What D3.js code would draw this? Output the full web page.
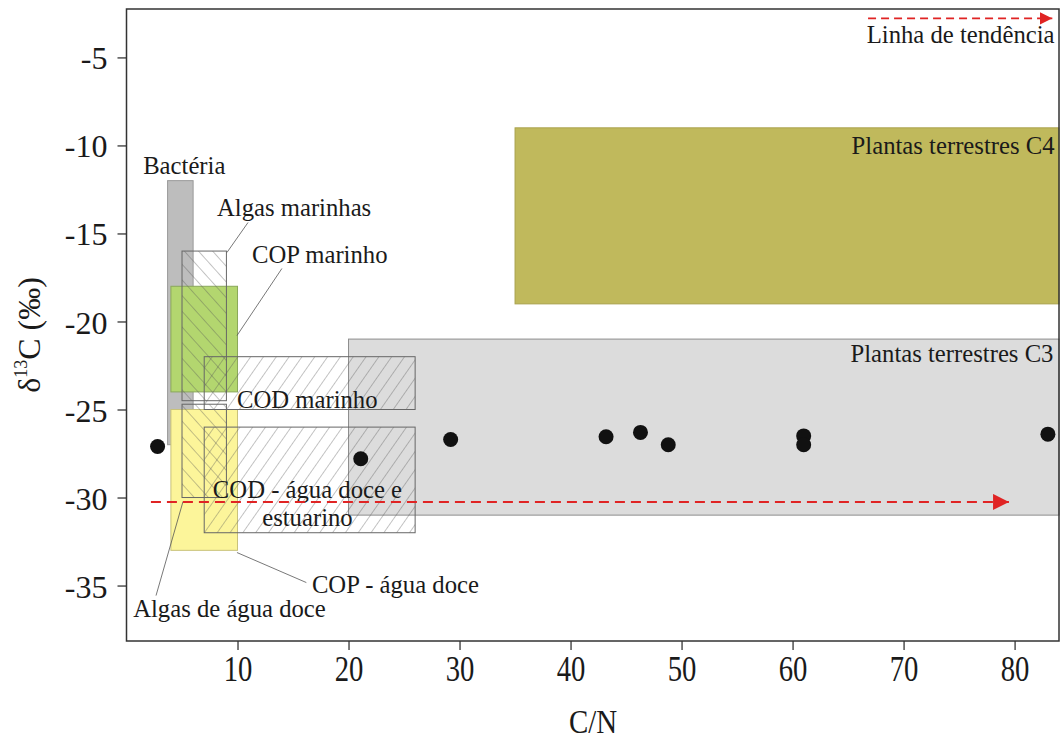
<!DOCTYPE html>
<html>
<head>
<meta charset="utf-8">
<script src="https://cdn.jsdelivr.net/npm/d3@7"></script>
<style>
  html, body { margin: 0; padding: 0; background: #fff; }
  svg { display: block; font-family: 'Liberation Serif', 'Times New Roman', serif; }
</style>
</head>
<body>
<svg id="chart" width="1061" height="743"></svg>
<script>
// axis ticks
const xTicks = [10, 20, 30, 40, 50, 60, 70, 80]
const yTicks = [-5, -10, -15, -20, -25, -30, -35]

// source zones (C/N range, d13C range)
const zoneNames = ['Plantas terrestres C3', 'Plantas terrestres C4', 'Bactéria', 'COP marinho',
  'COP - água doce', 'Algas marinhas', 'Algas de água doce', 'COD marinho', 'COD - água doce e estuarino']
const zoneCN = [[20, 84], [35, 84], [3.7, 6], [4, 10], [4, 10], [5, 9], [5, 9], [7, 26], [7, 26]]
const zoneD13C = [[-31, -21], [-19, -9], [-27, -12], [-24, -18], [-33, -25], [-24.5, -16], [-30, -24.7], [-25, -22], [-32, -26]]

// samples
const sampleCN = [2.8, 21.1, 29.2, 43.2, 46.3, 48.8, 61.0, 61.0, 83.0]
const sampleD13C = [-27.1, -27.8, -26.7, -26.55, -26.3, -27.0, -26.5, -27.0, -26.4]

// trend line (start, end)
const trendCN = [2.2, 79.5]
const trendD13C = [-30.25, -30.25]

// annotation texts and their anchor points in data units
const labelTexts = ['Bactéria', 'Algas marinhas', 'COP marinho', 'COD marinho', 'COD - água doce e', 'estuarino',
  'COP - água doce', 'Algas de água doce', 'Plantas terrestres C3', 'Plantas terrestres C4', 'Linha de tendência']
const labelCN = [1.5, 8.15, 11.3, 9.95, 16.3, 16.3, 16.7, 0.6, 83.5, 83.6, 83.6]
const labelD13C = [-11.6, -13.98, -16.65, -24.94, -30.0, -31.6, -35.45, -36.8, -22.33, -10.5, -4.2]
const labelAnchor = ['start', 'start', 'start', 'start', 'middle', 'middle', 'start', 'start', 'end', 'end', 'end']

// leader lines [x1, y1, x2, y2]
const leaders = [
  [10.95, -14.375, 9.05, -16.08],
  [14.0, -16.99, 9.95, -20.8],
  [16.2, -34.83, 9.95, -33.125],
  [2.66, -35.57, 5.09, -30.23]
]
const legendArrowCN = [66.8, 83.4]
const legendArrowD13C = -2.78

const zoneStyle = {
  'Plantas terrestres C3': { fill: '#dcdcdc', stroke: '#8c8c8c' },
  'Plantas terrestres C4': { fill: '#c0b95c', stroke: '#a9a24c' },
  'Bactéria': { fill: '#bdbdbd', stroke: '#9a9a9a' },
  'COP marinho': { fill: '#b3d66f', stroke: '#8aa85a' },
  'COP - água doce': { fill: '#fcf59a', stroke: '#c9c27a' },
  'Algas marinhas': { fill: 'url(#hatchBack)', stroke: '#666' },
  'Algas de água doce': { fill: 'url(#hatchBack)', stroke: '#666' },
  'COD marinho': { fill: 'url(#hatchFwd)', stroke: '#666' },
  'COD - água doce e estuarino': { fill: 'url(#hatchFwd)', stroke: '#666' }
}

const svg = d3.select('#chart')
const x = d3.scaleLinear().domain([0, 84]).range([126.5, 1059])
const y = d3.scaleLinear().domain([-38.15, -2.25]).range([641, 9])

const defs = svg.append('defs')
function hatch(id, angle, gap) {
  defs.append('pattern')
    .attr('id', id)
    .attr('patternUnits', 'userSpaceOnUse')
    .attr('width', gap)
    .attr('height', gap)
    .attr('patternTransform', `rotate(${angle})`)
    .append('line')
    .attr('x1', 0).attr('y1', 0).attr('x2', 0).attr('y2', gap)
    .attr('stroke', '#555')
    .attr('stroke-width', 0.7)
}
hatch('hatchFwd', 35, 10.5)
hatch('hatchBack', -42, 10.5)

defs.append('marker')
  .attr('id', 'arrow')
  .attr('viewBox', '0 0 10 10')
  .attr('refX', 10).attr('refY', 5)
  .attr('markerWidth', 8).attr('markerHeight', 8)
  .attr('markerUnits', 'strokeWidth')
  .attr('orient', 'auto')
  .append('path')
  .attr('d', 'M0,0 L10,5 L0,10 Z')
  .attr('fill', '#e02424')

// zones
const zones = zoneNames.map((name, i) => ({ name, cn: zoneCN[i], d: zoneD13C[i] }))
svg.append('g').selectAll('rect')
  .data(zones)
  .enter()
  .append('rect')
  .attr('x', d => x(d.cn[0]))
  .attr('y', d => y(d.d[1]))
  .attr('width', d => x(d.cn[1]) - x(d.cn[0]))
  .attr('height', d => y(d.d[0]) - y(d.d[1]))
  .attr('fill', d => zoneStyle[d.name].fill)
  .attr('stroke', d => zoneStyle[d.name].stroke)
  .attr('stroke-width', 1)

// leader lines
svg.append('g').selectAll('line')
  .data(leaders)
  .enter()
  .append('line')
  .attr('x1', d => x(d[0])).attr('y1', d => y(d[1]))
  .attr('x2', d => x(d[2])).attr('y2', d => y(d[3]))
  .attr('stroke', '#555')
  .attr('stroke-width', 0.8)

// labels
svg.append('g').selectAll('text')
  .data(labelTexts)
  .enter()
  .append('text')
  .attr('x', (d, i) => x(labelCN[i]))
  .attr('y', (d, i) => y(labelD13C[i]))
  .attr('text-anchor', (d, i) => labelAnchor[i])
  .attr('font-size', 24.7)
  .attr('fill', '#1a1a1a')
  .text(d => d)

// samples
svg.append('g').selectAll('circle')
  .data(sampleCN.map((c, i) => [c, sampleD13C[i]]))
  .enter()
  .append('circle')
  .attr('cx', d => x(d[0]))
  .attr('cy', d => y(d[1]))
  .attr('r', 7.5)
  .attr('fill', '#111')

// trend line + legend arrow
const red = '#e02424'
svg.append('line')
  .attr('x1', x(trendCN[0])).attr('y1', y(trendD13C[0]))
  .attr('x2', x(trendCN[1])).attr('y2', y(trendD13C[1]))
  .attr('stroke', red).attr('stroke-width', 2)
  .attr('stroke-dasharray', '10,6')
  .attr('marker-end', 'url(#arrow)')

svg.append('line')
  .attr('x1', x(legendArrowCN[0])).attr('y1', y(legendArrowD13C))
  .attr('x2', x(legendArrowCN[1])).attr('y2', y(legendArrowD13C))
  .attr('stroke', red).attr('stroke-width', 1.6)
  .attr('stroke-dasharray', '8,5')
  .attr('marker-end', 'url(#arrow)')

// axes
const xAxis = svg.append('g')
  .attr('transform', `translate(0,${y.range()[0]})`)
  .call(d3.axisBottom(x).tickValues(xTicks).tickSize(9).tickPadding(6))
xAxis.select('.domain').remove()
xAxis.selectAll('line').attr('stroke', '#444').attr('stroke-width', 1.4)
xAxis.selectAll('text')
  .attr('font-family', "'Liberation Serif', serif")
  .attr('font-size', 35)
  .attr('fill', '#1a1a1a')
  .attr('transform', 'scale(0.82,1)')

const yAxis = svg.append('g')
  .attr('transform', `translate(${x.range()[0]},0)`)
  .call(d3.axisLeft(y).tickValues(yTicks).tickSize(9).tickPadding(10).tickFormat(d => d))
yAxis.select('.domain').remove()
yAxis.selectAll('line').attr('stroke', '#444').attr('stroke-width', 1.4)
yAxis.selectAll('text')
  .attr('font-family', "'Liberation Serif', serif")
  .attr('font-size', 32)
  .attr('fill', '#1a1a1a')
  .attr('dy', '0.36em')

// frame
svg.append('rect')
  .attr('x', x.range()[0])
  .attr('y', y.range()[1])
  .attr('width', x.range()[1] - x.range()[0])
  .attr('height', y.range()[0] - y.range()[1])
  .attr('fill', 'none')
  .attr('stroke', '#333')
  .attr('stroke-width', 1.5)

// axis titles
svg.append('text')
  .attr('x', 593).attr('y', 733)
  .attr('text-anchor', 'middle')
  .attr('font-size', 34)
  .attr('fill', '#1a1a1a')
  .attr('transform', 'translate(593,0) scale(0.85,1) translate(-593,0)')
  .text('C/N')

const yTitle = svg.append('text')
  .attr('transform', 'translate(40,335) rotate(-90)')
  .attr('text-anchor', 'middle')
  .attr('font-size', 32)
  .attr('fill', '#1a1a1a')
yTitle.append('tspan').text('δ')
yTitle.append('tspan').attr('font-size', 18).attr('dy', -13).text('13')
yTitle.append('tspan').attr('dy', 13).text('C (‰)')
</script>
</body>
</html>
